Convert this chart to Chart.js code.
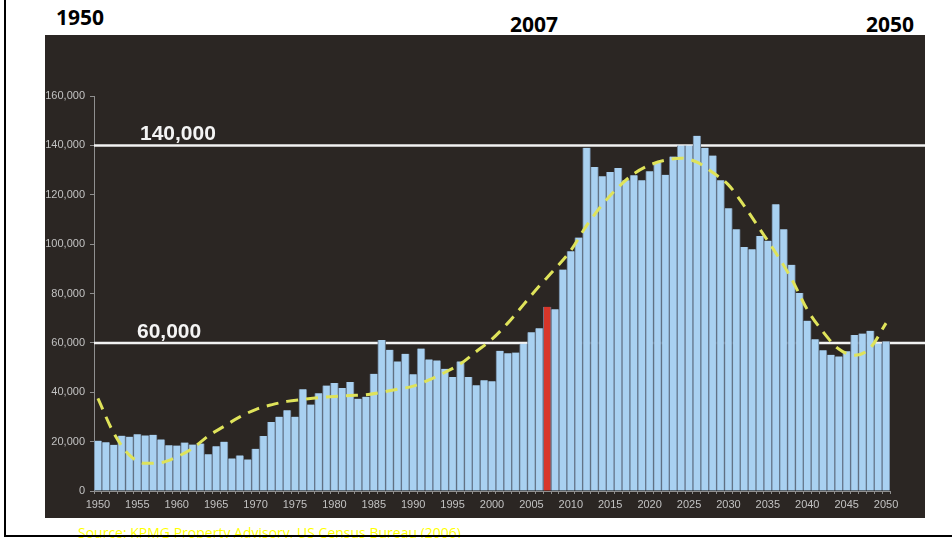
<!DOCTYPE html>
<html>
<head>
<meta charset="utf-8">
<script src="https://cdn.jsdelivr.net/npm/chart.js@4.4.1/dist/chart.umd.min.js"></script>
<style>
    html, body { margin: 0; padding: 0; background: #ffffff; }
    body { width: 952px; height: 538px; position: relative; overflow: hidden; }
    #frameLeft { position: absolute; left: 4px; top: 0; width: 2px; height: 537px; background: #000; z-index: 5; }
    #frameBottom { position: absolute; left: 4px; top: 535px; width: 948px; height: 2px; background: #000; z-index: 5; }
    #chartWrap { position: absolute; left: 45px; top: 35px; width: 880px; height: 483px; }
    .yearMark { position: absolute; font-family: "Open Sans", sans-serif; font-weight: 700; font-size: 21px; line-height: 21px; color: #000; }
    .refLabel { position: absolute; font-family: "Liberation Sans", Arial, sans-serif; font-weight: 700; font-size: 21px; line-height: 21px; color: #f4f4f4; }
    #source { position: absolute; left: 78px; top: 525px; font-family: "Open Sans", sans-serif; font-size: 14px; line-height: 15px; color: #ffff00; white-space: nowrap; }
</style>
</head>
<body>
<div id="frameLeft"></div>
<div class="yearMark" style="left:56px; top:7px;">1950</div>
<div class="yearMark" style="left:510px; top:14px;">2007</div>
<div class="yearMark" style="left:866px; top:14px;">2050</div>
<div id="chartWrap"><canvas id="demandChart" width="880" height="483"></canvas></div>
<div class="refLabel" id="label140">140,000</div>
<div class="refLabel" id="label60">60,000</div>
<div id="source">Source: KPMG Property Advisory, US Census Bureau (2006)</div>
<div id="frameBottom"></div>

<script>
// years on the x axis
const years = [
    1950, 1951, 1952, 1953, 1954, 1955, 1956, 1957, 1958, 1959,
    1960, 1961, 1962, 1963, 1964, 1965, 1966, 1967, 1968, 1969,
    1970, 1971, 1972, 1973, 1974, 1975, 1976, 1977, 1978, 1979,
    1980, 1981, 1982, 1983, 1984, 1985, 1986, 1987, 1988, 1989,
    1990, 1991, 1992, 1993, 1994, 1995, 1996, 1997, 1998, 1999,
    2000, 2001, 2002, 2003, 2004, 2005, 2006, 2007, 2008, 2009,
    2010, 2011, 2012, 2013, 2014, 2015, 2016, 2017, 2018, 2019,
    2020, 2021, 2022, 2023, 2024, 2025, 2026, 2027, 2028, 2029,
    2030, 2031, 2032, 2033, 2034, 2035, 2036, 2037, 2038, 2039,
    2040, 2041, 2042, 2043, 2044, 2045, 2046, 2047, 2048, 2049,
    2050
];

// yearly values (bars)
const yearlyValues = [
    20400, 19700, 18700, 22400, 22000, 23000, 22500, 22800, 20900, 18500,
    18400, 19600, 18800, 19200, 14900, 18100, 20000, 13200, 14400, 12800,
    17100, 22300, 27900, 30100, 32700, 30100, 41200, 35000, 39600, 42700,
    43700, 41700, 44200, 37400, 38200, 47500, 61200, 57200, 52500, 55600,
    47300, 57700, 53300, 52900, 49500, 46200, 52500, 46200, 42800, 44900,
    44500, 56800, 55800, 56100, 59600, 64300, 65900, 74600, 73600, 89700,
    97100, 102700, 139000, 131200, 127500, 129200, 130800, 125900, 127900, 125900,
    129500, 133000, 128100, 135500, 139900, 139900, 143900, 139000, 135900, 125900,
    114500, 106000, 98800, 97900, 103300, 101400, 116200, 106000, 91600, 80200,
    69000, 61500, 57000, 55200, 54500, 56600, 63200, 63800, 64900, 59700,
    60600
];

const highlightYear = 2007;

// dashed trend curve, read every two years
const trendYears = [
    1950, 1952, 1954, 1956, 1958, 1960, 1962, 1964, 1966, 1968,
    1970, 1972, 1974, 1976, 1978, 1980, 1982, 1984, 1986, 1988,
    1990, 1992, 1994, 1996, 1998, 2000, 2002, 2004, 2006, 2008,
    2010, 2012, 2014, 2016, 2018, 2020, 2022, 2024, 2026, 2028,
    2030, 2032, 2034, 2036, 2038, 2040, 2042, 2044, 2046, 2048,
    2050
];
const trendValues = [
    37500, 23500, 14500, 11200, 11500, 13800, 17300, 22300, 26200, 30000,
    33000, 34900, 36300, 37100, 37800, 38300, 38700, 39000, 40000, 41200,
    42500, 45000, 48000, 51500, 56500, 61500, 68000, 75500, 83000, 90000,
    97500, 107500, 116000, 123000, 128500, 132000, 134000, 134800, 133200, 129000,
    124000, 115500, 106000, 96500, 86000, 73500, 64500, 57500, 55000, 58000,
    68000
];

// reference lines
const refLines = [140000, 60000];
const yTicks = [0, 20000, 40000, 60000, 80000, 100000, 120000, 140000, 160000];

const panelColor = '#2b2623';
const barBlue = '#a9d1f1';
const barRed = '#d8362a';
const tickColor = '#c2c2c2';
const axisColor = '#8f8f8f';

const panelBackground = {
    id: 'panelBackground',
    beforeDraw(chart) {
        const ctx = chart.ctx;
        ctx.save();
        ctx.fillStyle = panelColor;
        ctx.fillRect(0, 0, chart.width, chart.height);
        ctx.restore();
    }
};

const referenceLines = {
    id: 'referenceLines',
    beforeDatasetsDraw(chart) {
        const ctx = chart.ctx;
        const y = chart.scales.y;
        ctx.save();
        ctx.strokeStyle = '#f2f2f2';
        ctx.lineWidth = 2.5;
        refLines.forEach(v => {
            const py = y.getPixelForValue(v);
            ctx.beginPath();
            ctx.moveTo(chart.chartArea.left, py);
            ctx.lineTo(chart.width, py);
            ctx.stroke();
        });
        ctx.restore();
    }
};

const chart = new Chart(document.getElementById('demandChart'), {
    data: {
        labels: years.map(String),
        datasets: [
            {
                type: 'line',
                order: 0,
                data: trendYears.map((yr, i) => ({ x: String(yr), y: trendValues[i] })),
                borderColor: '#dfe35a',
                borderWidth: 3,
                borderDash: [12, 8],
                pointRadius: 0,
                cubicInterpolationMode: 'monotone',
                fill: false
            },
            {
                type: 'bar',
                order: 1,
                data: yearlyValues,
                backgroundColor: years.map(yr => yr === highlightYear ? barRed : barBlue),
                borderColor: '#66788d',
                borderWidth: { left: 1, right: 1, top: 0, bottom: 0 },
                borderSkipped: false,
                barPercentage: 1,
                categoryPercentage: 1
            }
        ]
    },
    options: {
        responsive: false,
        animation: false,
        devicePixelRatio: 1,
        layout: { padding: { top: 61, right: 35, left: 0, bottom: 0 } },
        plugins: {
            legend: { display: false },
            tooltip: { enabled: false }
        },
        scales: {
            x: {
                type: 'category',
                offset: true,
                afterFit(scale) { scale.height = 27; },
                border: { display: true, color: axisColor, width: 1 },
                grid: { display: true, drawOnChartArea: false, drawTicks: true, tickLength: 3, color: axisColor },
                ticks: {
                    autoSkip: false,
                    maxRotation: 0,
                    padding: 4,
                    color: tickColor,
                    font: { family: '"Liberation Sans", Arial, sans-serif', size: 11 },
                    callback: function (value, index) {
                        return years[index] % 5 === 0 ? String(years[index]) : '';
                    }
                }
            },
            y: {
                min: 0,
                max: 160000,
                afterFit(scale) { scale.width = 49; },
                afterBuildTicks(scale) { scale.ticks = yTicks.map(v => ({ value: v })); },
                border: { display: true, color: axisColor, width: 1 },
                grid: { display: true, drawOnChartArea: false, drawTicks: true, tickLength: 4, color: axisColor },
                ticks: {
                    padding: 5,
                    color: tickColor,
                    font: { family: '"Liberation Sans", Arial, sans-serif', size: 11 },
                    callback: function (value) {
                        return value.toLocaleString('en-US');
                    }
                }
            }
        }
    },
    plugins: [panelBackground, referenceLines]
});

// place the reference line captions from the y scale
function placeRefLabel(id, value, left) {
    const el = document.getElementById(id);
    const py = 35 + chart.scales.y.getPixelForValue(value);
    el.style.left = left + 'px';
    el.style.top = (py - 5 - 18) + 'px';
}
placeRefLabel('label140', refLines[0], 140);
placeRefLabel('label60', refLines[1], 137);
</script>
</body>
</html>
